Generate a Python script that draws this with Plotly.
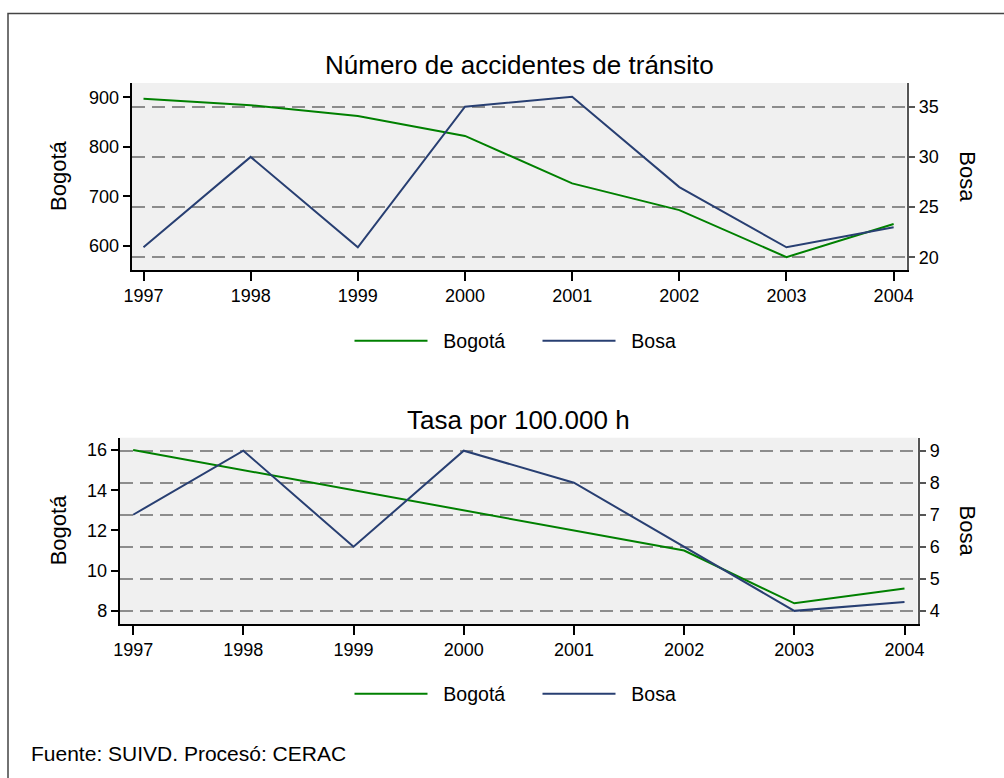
import plotly.graph_objects as go

# Datos
years = [1997, 1998, 1999, 2000, 2001, 2002, 2003, 2004]

acc_bogota = [897, 884, 862, 822, 726, 672, 577, 644]
acc_bosa = [21, 30, 21, 35, 36, 27, 21, 23]

tasa_bogota = [16.0, 15.0, 14.0, 13.0, 12.0, 11.0, 8.38, 9.11]
tasa_bosa = [7.0, 9.0, 6.0, 9.0, 8.0, 6.0, 4.0, 4.28]

left_ticks_top = [600, 700, 800, 900]
right_ticks_top = [20, 25, 30, 35]
left_ticks_bot = [8, 10, 12, 14, 16]
right_ticks_bot = [4, 5, 6, 7, 8, 9]

GREEN = "#008000"
NAVY = "#283f72"
FONT = "Liberation Sans, Arial, sans-serif"
W, H = 1004, 778


# posiciones en píxeles de la imagen -> coordenadas "paper"
# (la captura comprime un poco el eje horizontal)
def px(x):
    return (x - 7.5) / 989


def py(y):
    return 1 - y / H


fig = go.Figure()

NB = "\u00a0\u00a0"
fig.add_trace(go.Scatter(x=years, y=acc_bogota, mode="lines", name=NB + "Bogotá",
                         line=dict(color=GREEN, width=2), xaxis="x", yaxis="y",
                         legend="legend"))
fig.add_trace(go.Scatter(x=years, y=acc_bosa, mode="lines", name=NB + "Bosa",
                         line=dict(color=NAVY, width=2), xaxis="x", yaxis="y2",
                         legend="legend"))
fig.add_trace(go.Scatter(x=years, y=tasa_bogota, mode="lines", name=NB + "Bogotá",
                         line=dict(color=GREEN, width=2), xaxis="x2", yaxis="y3",
                         legend="legend2"))
fig.add_trace(go.Scatter(x=years, y=tasa_bosa, mode="lines", name=NB + "Bosa",
                         line=dict(color=NAVY, width=2), xaxis="x2", yaxis="y4",
                         legend="legend2"))

xcommon = dict(tickvals=years, showgrid=False, zeroline=False, showline=True,
               linecolor="black", linewidth=1.5, ticks="outside", ticklen=9,
               tickcolor="black", tickwidth=1.5, tickfont=dict(size=18))
lcommon = dict(showgrid=False, zeroline=False, showline=True, linecolor="black",
               linewidth=1.5, ticks="outside", ticklen=7, tickcolor="black",
               tickwidth=1.5, tickfont=dict(size=18))
rcommon = dict(side="right", showgrid=True, gridcolor="#8c8c8c", gridwidth=1.5,
               griddash="13px,7px", zeroline=False, showline=True,
               linecolor="#555555", linewidth=1.5, ticks="outside", ticklen=7,
               tickcolor="#555555", tickwidth=1.5, tickfont=dict(size=18))

legcommon = dict(orientation="h", xanchor="left", yanchor="middle",
                 font=dict(size=19.5), itemwidth=73, entrywidth=100,
                 bgcolor="rgba(0,0,0,0)")

fig.update_layout(
    width=W, height=H,
    margin=dict(l=0, r=0, t=0, b=0),
    paper_bgcolor="white",
    plot_bgcolor="#f0f0f0",
    font=dict(family=FONT, color="black"),
    xaxis=dict(domain=[px(131), px(906)], range=[1996.888, 2004.12],
               anchor="y", **xcommon),
    yaxis=dict(domain=[py(270), py(83)], range=[551, 928.9],
               tickvals=left_ticks_top, anchor="x", **lcommon),
    yaxis2=dict(overlaying="y", range=[18.74, 37.36], tickvals=right_ticks_top,
                anchor="x", **rcommon),
    xaxis2=dict(domain=[px(119), px(917)], range=[1996.876, 2004.118],
                anchor="y3", **xcommon),
    yaxis3=dict(domain=[py(624), py(437.7)], range=[7.35, 16.61],
                tickvals=left_ticks_bot, anchor="x2", **lcommon),
    yaxis4=dict(overlaying="y3", range=[3.59, 9.405], tickvals=right_ticks_bot,
                anchor="x2", **rcommon),
    legend=dict(x=px(349), y=py(341), **legcommon),
    legend2=dict(x=px(349), y=py(694), **legcommon),
    showlegend=True,
)

annots = [
    dict(text="Número de accidentes de tránsito", x=px(518.5), y=py(65),
         font=dict(size=26), xanchor="center", yanchor="middle"),
    dict(text="Tasa por 100.000 h", x=px(518), y=py(420),
         font=dict(size=26), xanchor="center", yanchor="middle"),
    dict(text="Bogotá", x=px(58), y=py(176.5), textangle=-90,
         font=dict(size=22), xanchor="center", yanchor="middle"),
    dict(text="Bosa", x=px(966.7), y=py(176.5), textangle=90,
         font=dict(size=22), xanchor="center", yanchor="middle"),
    dict(text="Bogotá", x=px(58), y=py(530.8), textangle=-90,
         font=dict(size=22), xanchor="center", yanchor="middle"),
    dict(text="Bosa", x=px(966.7), y=py(530.8), textangle=90,
         font=dict(size=22), xanchor="center", yanchor="middle"),
    dict(text="Fuente: SUIVD. Procesó: CERAC", x=px(28), y=py(753),
         font=dict(size=21), xanchor="left", yanchor="middle"),
]
for a in annots:
    fig.add_annotation(xref="paper", yref="paper", showarrow=False, **a)

# marco exterior
fig.add_shape(type="rect", xref="paper", yref="paper",
              x0=px(7.5), x1=1.2, y0=-0.2, y1=py(13.5),
              line=dict(color="#444444", width=1.5))

fig.write_html("out.html",
               config=dict(displayModeBar=False, responsive=False),
               post_script="document.body.style.margin='0';"
                           "document.body.style.overflow='hidden';")
